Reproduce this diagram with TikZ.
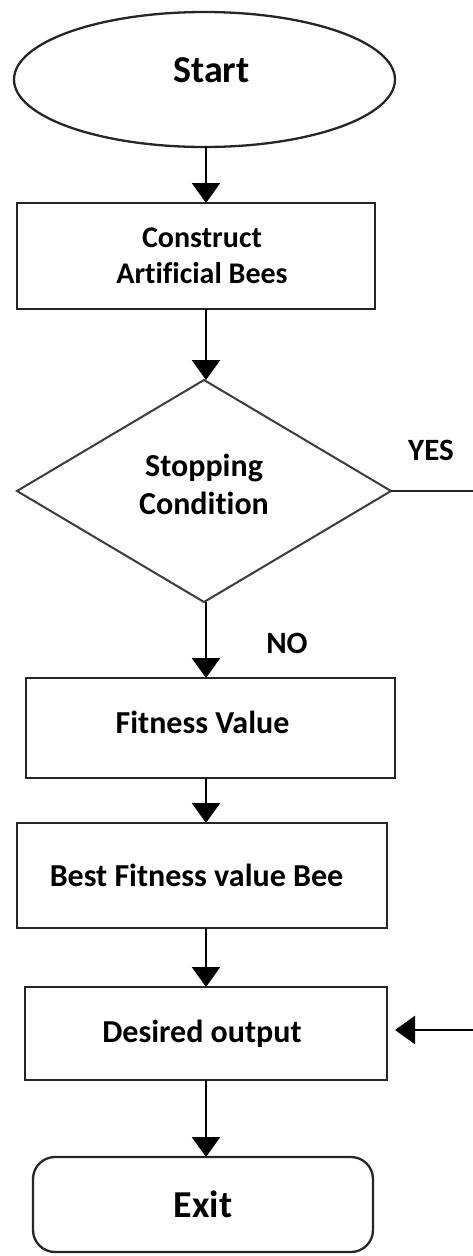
\documentclass[tikz,border=0pt]{standalone}
\usepackage{fontspec}
\setmainfont{Carlito}[Ligatures=CommonOff]
\usetikzlibrary{shapes.geometric,arrows.meta}
\definecolor{edge}{HTML}{262626}
\begin{document}
\begin{tikzpicture}[x=1pt,y=1pt,
  base/.style={draw=edge, line width=2.3pt, inner sep=0pt, outer sep=0pt, align=center,
    font=\bfseries\fontsize{32}{38}\selectfont},
  procbox/.style={base, rectangle},
  term/.style={base, ellipse, font=\bfseries\fontsize{38}{42}\selectfont},
  endbox/.style={base, rectangle, rounded corners=22pt, font=\bfseries\fontsize{38}{42}\selectfont},
  decision/.style={base, diamond, line width=2pt, draw=edge!90},
  flow/.style={draw=black, line width=2.5pt, -{Triangle[width=28pt,length=20pt]}},
  plain/.style={draw=edge, line width=2.3pt},
  lbl/.style={font=\bfseries\fontsize{31}{36}\selectfont, inner sep=0pt}]
\useasboundingbox (0,0) rectangle (473,-1256);
\coordinate (axis) at (206,0);

\node[term, minimum width=381pt, minimum height=135pt, text depth=19pt] (start) at (204.5,-79.5) {\hspace*{14pt}Start};
\node[procbox, minimum width=358pt, minimum height=106pt, font=\bfseries\fontsize{30}{36}\selectfont] (construct) at (196,-256) {\hspace*{12pt}Construct\\\hspace*{12pt}Artificial Bees};
\node[decision, minimum width=374pt, minimum height=222pt, text depth=14pt] (stop) at (204,-491) {Stopping\\Condition};
\node[procbox, minimum width=369pt, minimum height=100pt, text depth=11pt] (fitness) at (210.5,-728) {Fitness Value\hspace*{16pt}};
\node[procbox, minimum width=370pt, minimum height=105pt] (best) at (202,-875.5) {Best Fitness value Bee\hspace*{11pt}};
\node[procbox, minimum width=362pt, minimum height=93pt] (desired) at (206,-1033.5) {Desired output\hspace*{8pt}};
\node[endbox, minimum width=340pt, minimum height=95pt] (exit) at (203,-1204.5) {Exit};

\node[lbl] (yes) at (431,-450) {YES};
\node[lbl] (no) at (287,-643) {NO};

\coordinate (yesend) at (473,-491);
\coordinate (backin) at (473,-1030);

\draw[flow] (start.south -| axis) -- (construct.north -| axis);
\draw[flow] (construct.south -| axis) -- (stop.north -| axis);
\draw[flow] (stop.south -| axis) -- (fitness.north -| axis);
\draw[flow] (fitness.south -| axis) -- (best.north -| axis);
\draw[flow] (best.south -| axis) -- (desired.north -| axis);
\draw[flow] (desired.south -| axis) -- (exit.north -| axis);
\draw[plain] (stop.east) -- (yesend);
\draw[flow, shorten >=8pt] (backin) -- (backin -| desired.east);
\end{tikzpicture}
\end{document}
